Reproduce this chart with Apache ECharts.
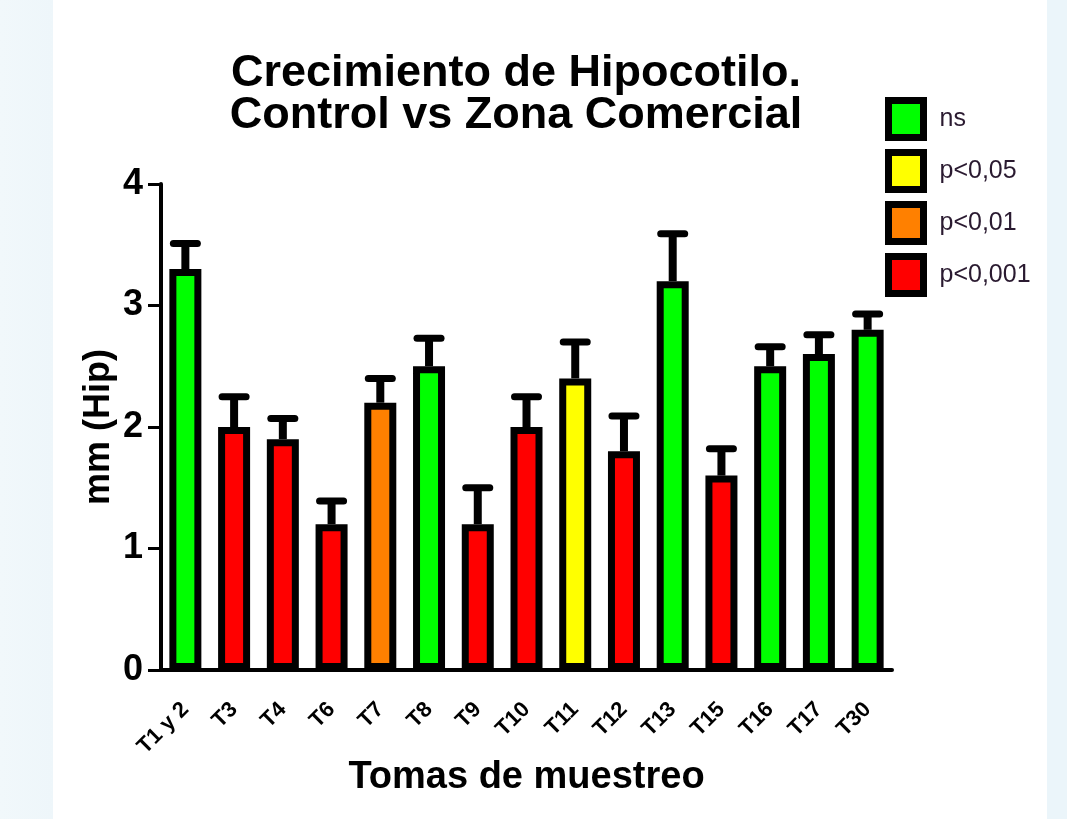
<!DOCTYPE html>
<html>
<head>
<meta charset="utf-8">
<script src="https://cdn.jsdelivr.net/npm/echarts@6/dist/echarts.min.js"></script>
<style>
  html, body { margin: 0; padding: 0; }
  body {
    width: 1067px; height: 819px; overflow: hidden;
    background: linear-gradient(to right, #f1f8fb 0, #eef6fa 53px, #ffffff 53px, #ffffff 1047px, #ebf5fa 1047px);
  }
  #chart { width: 1067px; height: 819px; }
</style>
</head>
<body>
<div id="chart"></div>
<script>
var categories = ['T1 y 2', 'T3', 'T4', 'T6', 'T7', 'T8', 'T9', 'T10', 'T11', 'T12', 'T13', 'T15', 'T16', 'T17', 'T30'];
var means = [3.3, 2.0, 1.9, 1.2, 2.2, 2.5, 1.2, 2.0, 2.4, 1.8, 3.2, 1.6, 2.5, 2.6, 2.8];
var errTops = [3.51, 2.25, 2.07, 1.39, 2.40, 2.73, 1.50, 2.25, 2.70, 2.09, 3.59, 1.82, 2.66, 2.76, 2.93];
var signif = ['ns', 'p<0,001', 'p<0,001', 'p<0,001', 'p<0,01', 'ns', 'p<0,001', 'p<0,001', 'p<0,05', 'p<0,001', 'ns', 'p<0,001', 'ns', 'ns', 'ns'];
var groups = ['ns', 'p<0,05', 'p<0,01', 'p<0,001'];
var groupColors = ['#00ff00', '#ffff00', '#ff8000', '#ff0000'];

var font = 'Arial, "Liberation Sans", sans-serif';

var chart = echarts.init(document.getElementById('chart'));

// one bar series per significance level, all sharing the same slot
var barSeries = groups.map(function (g, k) {
    return {
        name: g,
        type: 'bar',
        barWidth: 32,
        barGap: '-100%',
        z: 3,
        itemStyle: {color: groupColors[k], borderColor: '#000', borderWidth: 7},
        data: means.map(function (v, i) {
            return signif[i] === g ? v : '-';
        })
    };
});

// upper error bars
var errSeries = {
    type: 'custom',
    z: 2,
    silent: true,
    data: means.map(function (v, i) { return [i, v, errTops[i]]; }),
    renderItem: function (params, api) {
        var base = api.coord([api.value(0), api.value(1)]);
        var top = api.coord([api.value(0), api.value(2)]);
        return {
            type: 'group',
            children: [
                {
                    type: 'line',
                    shape: {x1: base[0], y1: base[1], x2: top[0], y2: top[1]},
                    style: {stroke: '#000', lineWidth: 8}
                },
                {
                    type: 'line',
                    shape: {x1: top[0] - 12, y1: top[1], x2: top[0] + 12, y2: top[1]},
                    style: {stroke: '#000', lineWidth: 7, lineCap: 'round'}
                }
            ]
        };
    }
};

chart.setOption({
    animation: false,
    backgroundColor: 'transparent',
    title: {
        text: 'Crecimiento de Hipocotilo.\nControl vs Zona Comercial',
        left: 511,
        top: 48,
        textAlign: 'center',
        textStyle: {fontFamily: font, fontSize: 45, fontWeight: 'bold', color: '#000', lineHeight: 42}
    },
    legend: {
        orient: 'vertical',
        left: 880,
        top: 92,
        icon: 'rect',
        itemWidth: 35,
        itemHeight: 37,
        itemGap: 8,
        data: groups,
        itemStyle: {borderColor: '#000', borderWidth: 7},
        textStyle: {fontFamily: font, fontSize: 25, color: '#2a1a30', padding: [0, 0, 8, 11]}
    },
    grid: {left: 161, right: 175, top: 184, bottom: 149},
    xAxis: {
        type: 'category',
        data: categories,
        name: 'Tomas de muestreo',
        nameLocation: 'middle',
        nameGap: 89,
        nameMoveOverlap: false,
        nameTextStyle: {fontFamily: font, fontSize: 38, fontWeight: 'bold', color: '#000'},
        axisLine: {lineStyle: {color: '#000', width: 4}},
        axisTick: {alignWithLabel: true, length: 14, lineStyle: {color: '#000', width: 3}},
        axisLabel: {
            rotate: 45, interval: 0, margin: 36,
            fontFamily: font, fontSize: 22, fontWeight: 'bold', color: '#000'
        }
    },
    yAxis: {
        type: 'value',
        min: 0,
        max: 4,
        interval: 1,
        name: 'mm (Hip)',
        nameLocation: 'middle',
        nameGap: 44,
        nameMoveOverlap: false,
        nameTextStyle: {fontFamily: font, fontSize: 36, fontWeight: 'bold', color: '#000'},
        axisLine: {show: true, lineStyle: {color: '#000', width: 4}},
        axisTick: {show: true, length: 13, lineStyle: {color: '#000', width: 3}},
        splitLine: {show: false},
        axisLabel: {margin: 18, fontFamily: font, fontSize: 36, fontWeight: 'bold', color: '#000'}
    },
    series: barSeries.concat([errSeries])
});
</script>
</body>
</html>
